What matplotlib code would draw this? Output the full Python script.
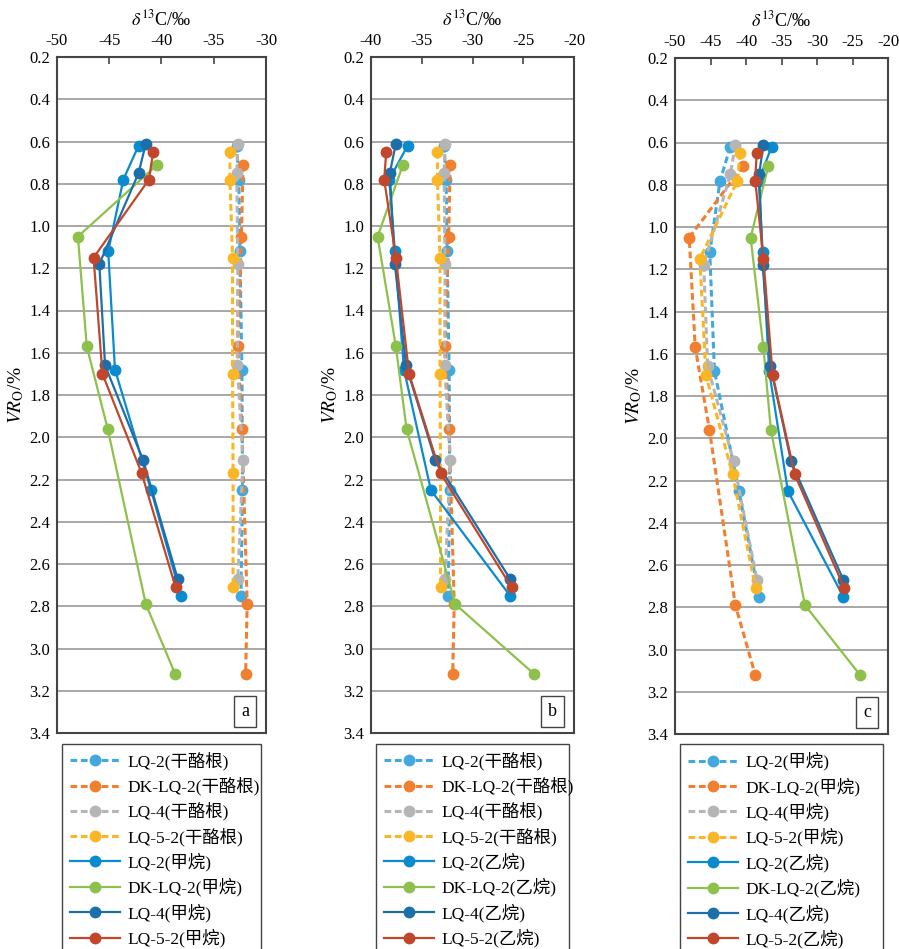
import matplotlib
matplotlib.use("Agg")
import matplotlib.pyplot as plt

plt.rcParams['font.family'] = ['Liberation Serif', 'Noto Sans CJK SC']
plt.rcParams['mathtext.fontset'] = 'stix'
plt.rcParams['axes.unicode_minus'] = False

# VRo of each sample series (%)
vr_lq2 = [0.62, 0.78, 1.12, 1.68, 2.25, 2.75]
vr_dk = [0.71, 1.05, 1.57, 1.96, 2.79, 3.12]
vr_lq4 = [0.61, 0.75, 1.18, 1.66, 2.11, 2.67]
vr_lq52 = [0.65, 0.78, 1.15, 1.70, 2.17, 2.71]

# delta13C (permil)
kero_lq2 = [-32.8, -32.6, -32.5, -32.3, -32.25, -32.4]
kero_dk = [-32.2, -32.35, -32.7, -32.3, -31.8, -31.95]
kero_lq4 = [-32.7, -32.8, -32.7, -32.75, -32.2, -32.7]
kero_lq52 = [-33.45, -33.45, -33.2, -33.2, -33.15, -33.15]

meth_lq2 = [-42.2, -43.65, -45.1, -44.45, -41.0, -38.15]
meth_dk = [-40.4, -48.0, -47.15, -45.15, -41.5, -38.7]
meth_lq4 = [-41.5, -42.2, -45.95, -45.4, -41.75, -38.45]
meth_lq52 = [-40.8, -41.2, -46.5, -45.65, -41.9, -38.65]

eth_lq2 = [-36.4, -38.2, -37.65, -36.75, -34.1, -26.3]
eth_dk = [-36.85, -39.35, -37.55, -36.5, -31.7, -23.95]
eth_lq4 = [-37.55, -38.15, -37.65, -36.55, -33.65, -26.3]
eth_lq52 = [-38.5, -38.7, -37.55, -36.25, -33.15, -26.15]

samples = ["LQ-2", "DK-LQ-2", "LQ-4", "LQ-5-2"]
vrs = [vr_lq2, vr_dk, vr_lq4, vr_lq52]
kerogen = [kero_lq2, kero_dk, kero_lq4, kero_lq52]
methane = [meth_lq2, meth_dk, meth_lq4, meth_lq52]
ethane = [eth_lq2, eth_dk, eth_lq4, eth_lq52]

dash_colors = ["#41a9de", "#f07f30", "#b5b5b5", "#f9b625"]
solid_colors = ["#0a8bd0", "#8dc14b", "#1c6fa8", "#c0472b"]

W, H = 899, 949
fig = plt.figure(figsize=(W / 100, H / 100), dpi=100)

panels = [
    # (left, right, top, bottom px), xlim, dashed set, solid set, names, tag
    ((57, 266, 57, 733), (-50, -30), kerogen, methane, ("干酪根", "甲烷"), "a"),
    ((371, 574, 57, 733), (-40, -20), kerogen, ethane, ("干酪根", "乙烷"), "b"),
    ((675, 888, 58, 734), (-50, -20), methane, ethane, ("甲烷", "乙烷"), "c"),
]

for (l, r, t, b), xlim, dashed, solid, names, tag in panels:
    ax = fig.add_axes([l / W, 1 - b / H, (r - l) / W, (b - t) / H])
    handles = []
    for i, s in enumerate(samples):
        h, = ax.plot(dashed[i], vrs[i], ls=(0, (2.2, 1.2)), lw=2.2, color=dash_colors[i],
                     marker="o", ms=7.5, label=f"{s}({names[0]})", zorder=3)
        handles.append(h)
    for i, s in enumerate(samples):
        h, = ax.plot(solid[i], vrs[i], ls="-", lw=1.6, color=solid_colors[i],
                     marker="o", ms=7.5, label=f"{s}({names[1]})", zorder=4)
        handles.append(h)

    ax.set_xlim(*xlim)
    ax.set_ylim(3.4, 0.2)
    ax.set_xticks(range(xlim[0], xlim[1] + 1, 5))
    ax.set_yticks([0.2 + 0.2 * k for k in range(17)])
    ax.set_yticklabels([f"{0.2 + 0.2 * k:.1f}" for k in range(17)])
    ax.xaxis.tick_top()
    ax.xaxis.set_label_position("top")
    ax.tick_params(axis="x", direction="in", length=5, width=1.2, color="#444444",
                   labelsize=12, pad=6)
    ax.tick_params(axis="y", length=0, labelsize=12, pad=5)
    ax.grid(axis="y", color="#a0a0a0", lw=1.3)
    ax.set_axisbelow(True)
    for sp in ax.spines.values():
        sp.set_color("#444444")
        sp.set_linewidth(1.5)
    ax.set_xlabel(r"$\delta^{13}$C/‰", fontsize=13, labelpad=5)
    ax.set_ylabel(r"$VR_{\rm O}$/%", fontsize=14, labelpad=2)
    ax.text(1 - 17 / (r - l), 13 / (b - t), tag, transform=ax.transAxes, ha="right",
            va="bottom", fontsize=13,
            bbox=dict(boxstyle="square,pad=0.4", fc="white", ec="#444444", lw=1))

    fig.legend(handles=handles, loc="upper left",
               bbox_to_anchor=((l + 5) / W, 1 - 744 / H - 0.01, (r - l - 10) / W, 0.01),
               mode="expand", fontsize=12.5, frameon=True, fancybox=False,
               edgecolor="#444444", framealpha=1, handlelength=2.9, handletextpad=0.4,
               labelspacing=0.38, borderpad=0.45, borderaxespad=0)

fig.savefig("out.png", dpi=100)
